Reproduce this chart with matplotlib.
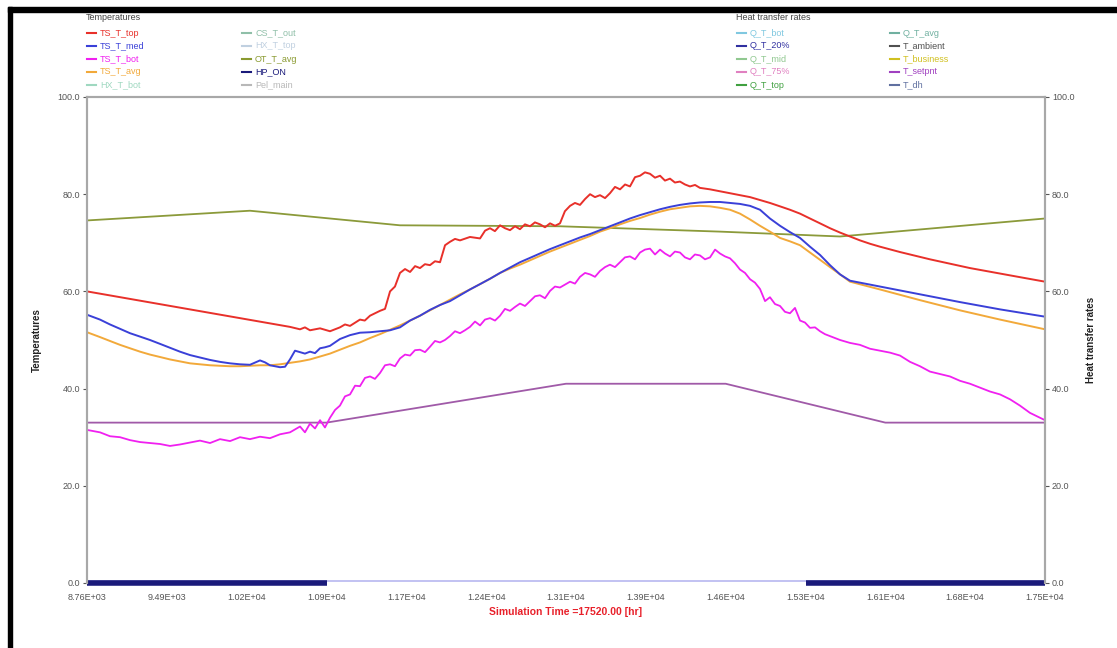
import matplotlib
matplotlib.use('Agg')
import matplotlib.pyplot as plt
from matplotlib.lines import Line2D
from matplotlib.patches import Rectangle

plt.rcParams['font.family'] = ['Liberation Sans', 'DejaVu Sans']

# ---- data (hours / degC) ----
ts_top_t = [8760, 10616, 10708, 10753, 10799, 10891, 10982, 11073, 11119, 11165, 11256, 11300,
            11348, 11439, 11485, 11531, 11576, 11622, 11668, 11714, 11760, 11805, 11850, 11896,
            11942, 11988, 12034, 12079, 12125, 12171, 12262, 12354, 12400, 12445, 12490, 12537,
            12582, 12628, 12674, 12719, 12765, 12811, 12856, 12902, 12948, 12994, 13040, 13085,
            13130, 13177, 13222, 13268, 13314, 13360, 13405, 13451, 13497, 13542, 13588, 13634,
            13680, 13725, 13771, 13817, 13862, 13908, 13954, 14000, 14045, 14091, 14136, 14182,
            14228, 14274, 14320, 14365, 14457, 14548, 14640, 14731, 14823, 14914, 15005, 15097,
            15188, 15280, 15371, 15463, 15554, 15646, 15737, 15828, 15920, 16011, 16194, 16468,
            16834, 17200, 17520]
ts_top = [60.0, 52.7, 52.2, 52.6, 52.0, 52.4, 51.8, 52.6, 53.2, 52.9, 54.2, 54.0,
          55.0, 56.0, 56.4, 60.0, 61.0, 63.8, 64.6, 64.0, 65.2, 64.8, 65.6, 65.4,
          66.2, 66.0, 69.5, 70.2, 70.8, 70.5, 71.2, 70.9, 72.5, 73.0, 72.4, 73.6,
          73.0, 72.6, 73.4, 72.8, 73.8, 73.4, 74.2, 73.8, 73.2, 74.0, 73.5, 74.0,
          76.5, 77.6, 78.2, 77.8, 79.0, 80.0, 79.4, 79.8, 79.2, 80.2, 81.5, 81.0,
          82.0, 81.6, 83.5, 83.8, 84.5, 84.2, 83.4, 83.8, 82.8, 83.2, 82.4, 82.6,
          82.0, 81.6, 81.9, 81.3, 81.0, 80.6, 80.2, 79.8, 79.4, 78.8, 78.2, 77.5,
          76.8, 76.0, 75.0, 74.0, 73.0, 72.1, 71.3, 70.5, 69.8, 69.2, 68.1, 66.6,
          64.8, 63.3, 62.0]

ts_med_t = [8760, 8879, 8970, 9062, 9153, 9245, 9336, 9428, 9519, 9610, 9702, 9793, 9885, 9976,
            10068, 10159, 10250, 10342, 10388, 10433, 10525, 10571, 10616, 10662, 10708, 10753,
            10799, 10845, 10891, 10936, 10982, 11073, 11165, 11256, 11348, 11439, 11531, 11622,
            11714, 11805, 11896, 11988, 12079, 12171, 12262, 12354, 12445, 12537, 12628, 12719,
            12811, 12902, 12994, 13085, 13177, 13268, 13360, 13451, 13542, 13634, 13725, 13817,
            13908, 14000, 14091, 14182, 14274, 14365, 14457, 14548, 14640, 14731, 14823, 14914,
            15005, 15097, 15188, 15280, 15371, 15463, 15554, 15646, 15737, 16011, 16377, 16743,
            17109, 17520]
ts_med = [55.2, 54.2, 53.2, 52.3, 51.4, 50.7, 50.0, 49.2, 48.4, 47.6, 46.9, 46.4, 45.9, 45.5,
          45.2, 45.0, 44.9, 45.8, 45.4, 44.8, 44.4, 44.5, 46.0, 47.8, 47.5, 47.2,
          47.6, 47.3, 48.3, 48.5, 48.8, 50.2, 51.0, 51.5, 51.6, 51.8, 52.0, 52.6,
          54.0, 55.0, 56.2, 57.2, 58.0, 59.2, 60.4, 61.5, 62.6, 63.8, 64.9, 66.0,
          66.9, 67.8, 68.7, 69.5, 70.3, 71.1, 71.8, 72.6, 73.4, 74.2, 75.0, 75.7,
          76.3, 76.9, 77.4, 77.8, 78.1, 78.3, 78.4, 78.4, 78.2, 78.0, 77.6, 76.8,
          75.0, 73.5, 72.2, 71.0, 69.2, 67.5, 65.4, 63.5, 62.2, 61.0, 59.4, 57.8,
          56.3, 54.8]

ts_avg_t = [8760, 8879, 8970, 9062, 9153, 9245, 9336, 9428, 9519, 9610, 9702, 9793, 9885, 9976,
            10068, 10159, 10250, 10342, 10433, 10525, 10616, 10708, 10799, 10891, 10982, 11073,
            11165, 11256, 11348, 11439, 11531, 11622, 11714, 11805, 11896, 11988, 12079, 12171,
            12262, 12354, 12445, 12537, 12628, 12719, 12811, 12902, 12994, 13085, 13177, 13268,
            13360, 13451, 13542, 13634, 13725, 13817, 13908, 14000, 14091, 14182, 14274, 14365,
            14457, 14548, 14640, 14731, 14823, 14914, 15005, 15097, 15188, 15280, 15371, 15463,
            15554, 15646, 15737, 16011, 16377, 16743, 17109, 17520]
ts_avg = [51.6, 50.6, 49.8, 49.0, 48.3, 47.6, 47.0, 46.5, 46.0, 45.6, 45.2, 45.0, 44.8, 44.7,
          44.6, 44.6, 44.7, 44.8, 44.8, 45.0, 45.3, 45.6, 46.0, 46.6, 47.2, 48.0,
          48.8, 49.5, 50.4, 51.2, 52.1, 53.0, 54.0, 55.0, 56.1, 57.2, 58.3, 59.4,
          60.4, 61.5, 62.6, 63.8, 64.7, 65.5, 66.4, 67.3, 68.2, 69.0, 69.8, 70.6,
          71.4, 72.3, 73.0, 73.8, 74.5, 75.1, 75.8, 76.4, 76.9, 77.2, 77.5, 77.6,
          77.5, 77.2, 76.8, 76.0, 74.8, 73.5, 72.3, 71.0, 70.3, 69.5, 68.0, 66.5,
          65.0, 63.5, 62.0, 60.4, 58.2, 56.1, 54.2, 52.2]

ts_bot_t = [8760, 8879, 8970, 9062, 9153, 9245, 9336, 9428, 9519, 9610, 9702, 9793, 9885, 9976,
            10068, 10159, 10250, 10342, 10433, 10525, 10616, 10708, 10753, 10799, 10845, 10891,
            10936, 10982, 11028, 11073, 11119, 11165, 11211, 11256, 11302, 11348, 11393, 11439,
            11485, 11531, 11576, 11622, 11668, 11714, 11759, 11805, 11851, 11896, 11942, 11988,
            12033, 12079, 12125, 12171, 12216, 12262, 12308, 12354, 12399, 12445, 12491, 12537,
            12582, 12628, 12674, 12719, 12765, 12811, 12857, 12902, 12948, 12994, 13039, 13085,
            13131, 13177, 13222, 13268, 13314, 13360, 13405, 13451, 13497, 13542, 13588, 13634,
            13679, 13725, 13771, 13817, 13862, 13908, 13954, 14000, 14045, 14091, 14136, 14182,
            14228, 14274, 14319, 14365, 14411, 14457, 14503, 14548, 14594, 14640, 14685, 14731,
            14777, 14823, 14868, 14914, 14960, 15005, 15051, 15097, 15142, 15188, 15234, 15280,
            15325, 15371, 15417, 15463, 15508, 15554, 15646, 15737, 15828, 15920,
            16011, 16103, 16194, 16286, 16377, 16468, 16560, 16651, 16743, 16834, 16926, 17017,
            17109, 17200, 17291, 17383, 17474, 17520]
ts_bot = [31.5, 31.0, 30.2, 30.0, 29.4, 29.0, 28.8, 28.6, 28.2, 28.5, 28.9, 29.3, 28.8, 29.6,
          29.2, 30.0, 29.6, 30.1, 29.8, 30.6, 31.0, 32.2, 31.0, 32.8, 31.8, 33.5,
          32.0, 34.0, 35.6, 36.5, 38.4, 38.8, 40.6, 40.5, 42.2, 42.5, 42.0, 43.2,
          44.8, 45.0, 44.6, 46.2, 47.0, 46.8, 47.9, 48.0, 47.5, 48.6, 49.8, 49.5,
          50.0, 50.8, 51.8, 51.4, 52.0, 52.7, 53.8, 53.0, 54.2, 54.5, 54.0, 55.0,
          56.4, 56.0, 56.8, 57.5, 57.0, 58.0, 59.0, 59.2, 58.6, 60.1, 61.0, 60.8,
          61.4, 62.0, 61.6, 63.0, 63.8, 63.5, 63.0, 64.2, 65.0, 65.5, 65.0, 66.0,
          67.0, 67.2, 66.6, 68.0, 68.6, 68.8, 67.6, 68.6, 67.8, 67.2, 68.2, 68.0,
          67.0, 66.6, 67.6, 67.4, 66.6, 67.0, 68.6, 67.8, 67.2, 66.8, 65.8, 64.5,
          63.8, 62.5, 61.8, 60.5, 58.0, 58.8, 57.4, 57.0, 55.8, 55.5, 56.6, 54.0,
          53.6, 52.5, 52.6, 51.8, 51.2, 50.8, 50.0, 49.4, 49.0, 48.2,
          47.8, 47.4, 46.8, 45.5, 44.6, 43.5, 43.0, 42.5, 41.6, 41.0, 40.2, 39.4,
          38.8, 37.8, 36.5, 35.0, 34.0, 33.5]

ot_avg_t = [8760, 10250, 11622, 13085, 14548, 15646, 17520]
ot_avg = [74.6, 76.6, 73.6, 73.4, 72.3, 71.3, 75.0]

setpnt_t = [8760, 10950, 13140, 14600, 16060, 17520]
setpnt = [33.0, 33.0, 41.0, 41.0, 33.0, 33.0]

hp_on_start = [8760, 15330]
hp_on_end = [10950, 17520]

x_ticks = [8760, 9490, 10220, 10950, 11680, 12410, 13140, 13870, 14600, 15330, 16060, 16790, 17520]
x_labels = ['8.76E+03', '9.49E+03', '1.02E+04', '1.09E+04', '1.17E+04', '1.24E+04', '1.31E+04',
            '1.39E+04', '1.46E+04', '1.53E+04', '1.61E+04', '1.68E+04', '1.75E+04']
y_ticks = [0, 20, 40, 60, 80, 100]

temp_names = ['TS_T_top', 'TS_T_med', 'TS_T_bot', 'TS_T_avg', 'HX_T_bot',
              'CS_T_out', 'HX_T_top', 'OT_T_avg', 'HP_ON', 'Pel_main']
temp_colors = ['#e8302a', '#3a40d8', '#f020f0', '#f2a93a', '#9fd8c0',
               '#8fbfa8', '#c0d0e0', '#8a9a30', '#1a1a7a', '#b8b8b8']
heat_names = ['Q_T_bot', 'Q_T_20%', 'Q_T_mid', 'Q_T_75%', 'Q_T_top',
              'Q_T_avg', 'T_ambient', 'T_business', 'T_setpnt', 'T_dh']
heat_colors = ['#80c8e0', '#3030a0', '#90c890', '#e080c0', '#40a040',
               '#70b0a0', '#505050', '#d0c020', '#a040c0', '#6070a0']

W, H = 1117, 648
fig = plt.figure(figsize=(W / 100, H / 100), dpi=100)
fig.patch.set_facecolor('white')

ax = fig.add_axes([87 / W, 1 - 583 / H, (1045 - 87) / W, (583 - 97) / H])
ax2 = ax.twinx()

ax.plot(ot_avg_t, ot_avg, color='#8b9a3a', lw=1.3)
ax.plot(setpnt_t, setpnt, color='#a05aa8', lw=1.3)
ax.plot(ts_top_t, ts_top, color='#e8302a', lw=1.4)
ax.plot(ts_avg_t, ts_avg, color='#f2a93a', lw=1.4)
ax.plot(ts_med_t, ts_med, color='#3a40d8', lw=1.4)
ax.plot(ts_bot_t, ts_bot, color='#f020f0', lw=1.3)

# heat rates sitting on zero, and the heat pump on/off signal
ax.hlines(0.4, x_ticks[0], x_ticks[-1], color='#b8b8f0', lw=1.2, clip_on=False)
ax.hlines([0] * len(hp_on_start), hp_on_start, hp_on_end, color='#1a1a7a', lw=4, clip_on=False)

for a in (ax, ax2):
    a.set_xlim(x_ticks[0], x_ticks[-1])
    a.set_ylim(0, 100)
    a.set_yticks(y_ticks)
    a.set_yticklabels(['%.1f' % v for v in y_ticks])
    a.tick_params(axis='y', labelsize=6.5, colors='#555555', length=3, width=0.8, pad=2)
    for s in a.spines.values():
        s.set_color('#a8a8a8')
        s.set_linewidth(1.5)
    a.spines['bottom'].set_visible(False)

ax.set_xticks(x_ticks)
ax.set_xticklabels(x_labels)
ax.tick_params(axis='x', labelsize=6.5, colors='#555555', length=0, pad=7)

ax.set_ylabel('Temperatures', fontsize=7, fontweight='bold', color='#222222', labelpad=11)
ax2.set_ylabel('Heat transfer rates', fontsize=7, fontweight='bold', color='#222222', labelpad=8)
ax.set_xlabel('Simulation Time =17520.00 [hr]', fontsize=7.5, fontweight='bold',
              color='#e8202a', labelpad=4)


# hand-drawn legends like the original tool
def draw_legend(title, x0, x1, names, colors):
    fig.text(x0 / W, 1 - 18 / H, title, fontsize=6.5, color='#444444', va='center')
    rows = [33, 46, 59, 72, 85]
    for i, (name, col) in enumerate(zip(names, colors)):
        xs = x0 if i < 5 else x1
        y = 1 - rows[i % 5] / H
        fig.add_artist(Line2D([(xs + 1) / W, (xs + 10) / W], [y, y], color=col, lw=1.5,
                              transform=fig.transFigure))
        fig.text((xs + 14) / W, y, name, fontsize=6.5, color=col, va='center')


draw_legend('Temperatures', 86, 241, temp_names, temp_colors)
draw_legend('Heat transfer rates', 736, 889, heat_names, heat_colors)

# black frame at top and left
fig.add_artist(Rectangle((8 / W, 1 - 12 / H), 1, 5 / H, color='black', transform=fig.transFigure))
fig.add_artist(Rectangle((8 / W, 0), 4 / W, 1 - 7 / H, color='black', transform=fig.transFigure))

plt.savefig('out.png', dpi=100, facecolor='white')
plt.close()
